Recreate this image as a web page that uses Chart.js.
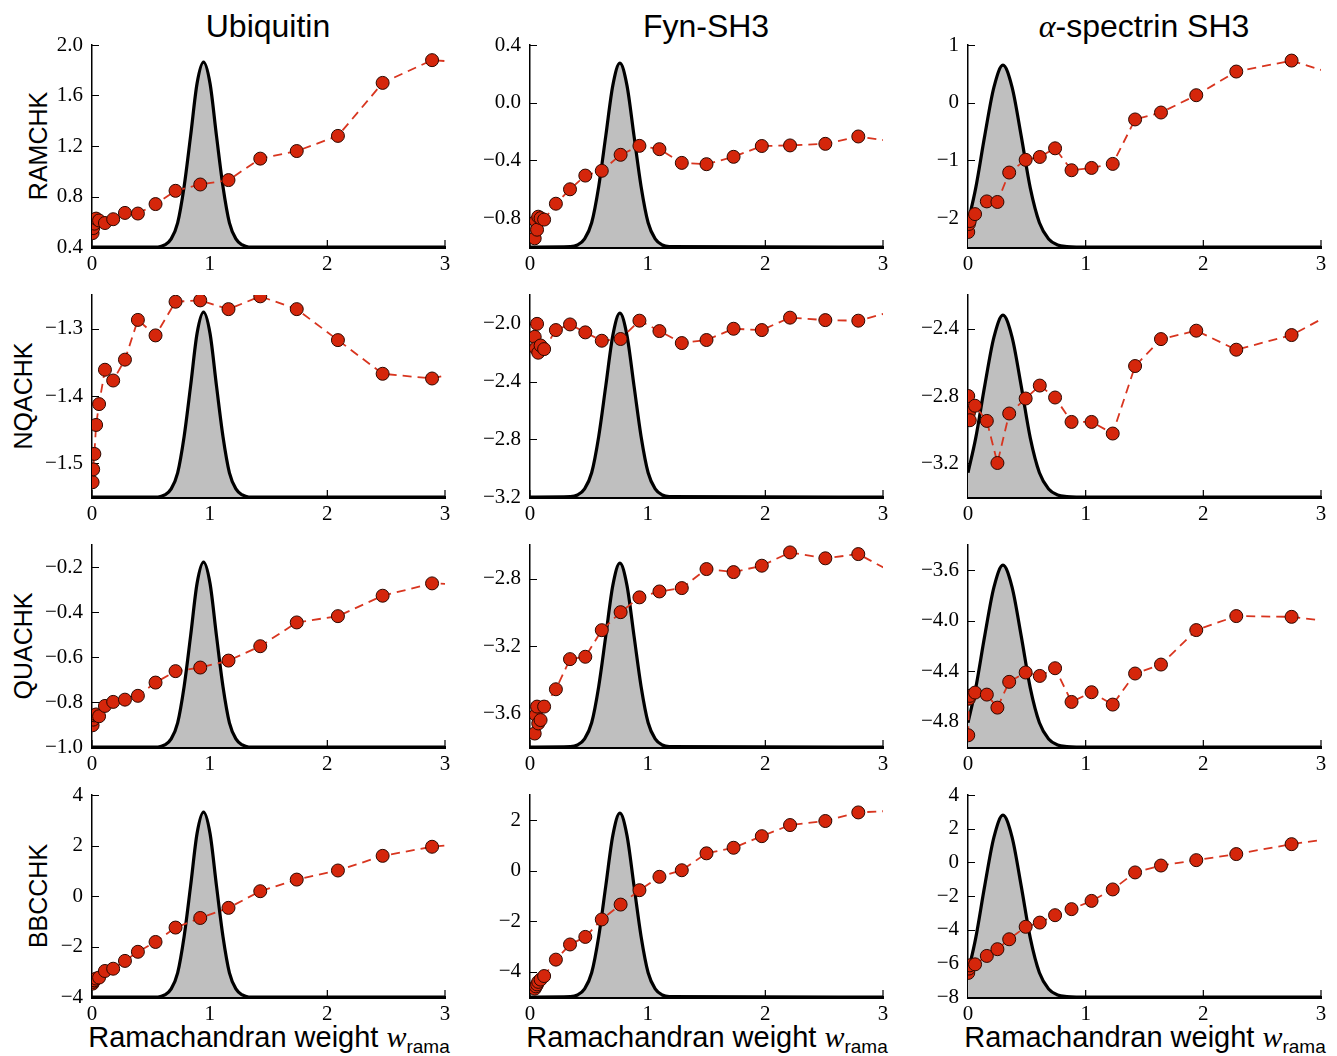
<!DOCTYPE html>
<html>
<head>
<meta charset="utf-8">
<script src="https://cdn.jsdelivr.net/npm/chart.js@4.4.1/dist/chart.umd.min.js"></script>
<style>
  html, body { margin: 0; padding: 0; background: #fff; }
  #page { position: relative; width: 1337px; height: 1056px; overflow: hidden; font-family: "Liberation Sans", Arial, sans-serif; color: #000; }
  #page canvas { position: absolute; }
  .col-title { position: absolute; top: 10px; width: 400px; margin-left: -200px; text-align: center; font-size: 32px; line-height: 32px; white-space: nowrap; }
  .col-title i { font-family: "Liberation Serif", serif; }
  .row-label { position: absolute; font-size: 25px; line-height: 25px; transform: translate(-50%, -50%) rotate(-90deg); white-space: nowrap; }
  .x-label { position: absolute; top: 1022px; width: 440px; margin-left: -220px; text-align: center; font-size: 29px; line-height: 29px; white-space: nowrap; }
  .x-label i { font-family: "Liberation Serif", serif; font-size: 30px; }
  .x-label span { font-size: 19px; position: relative; top: 6px; }
</style>
</head>
<body>
<div id="page">
  <div class="col-title" style="left:268px">Ubiquitin</div>
  <div class="col-title" style="left:706px">Fyn-SH3</div>
  <div class="col-title" style="left:1144px"><i>α</i>-spectrin SH3</div>
  <div class="row-label" style="left:38px; top:146px">RAMCHK</div>
  <div class="row-label" style="left:23px; top:396px">NQACHK</div>
  <div class="row-label" style="left:23px; top:646px">QUACHK</div>
  <div class="row-label" style="left:38px; top:896px">BBCCHK</div>
  <div class="x-label" style="left:269px">Ramachandran weight <i>w</i><span>rama</span></div>
  <div class="x-label" style="left:707px">Ramachandran weight <i>w</i><span>rama</span></div>
  <div class="x-label" style="left:1145px">Ramachandran weight <i>w</i><span>rama</span></div>
</div>
<script>
// Ramachandran weights sampled for each protein (last point lies past the axis and is clipped)
const ubqX = [0.005, 0.01, 0.02, 0.035, 0.06, 0.11, 0.18, 0.28, 0.39, 0.54, 0.71, 0.92, 1.16, 1.43, 1.74, 2.09, 2.47, 2.89, 3.35];
const ubqRam = [0.51, 0.55, 0.585, 0.625, 0.61, 0.59, 0.62, 0.67, 0.665, 0.74, 0.845, 0.895, 0.93, 1.10, 1.16, 1.28, 1.70, 1.88, 1.85];
const ubqNqa = [-1.528, -1.509, -1.486, -1.443, -1.412, -1.361, -1.377, -1.346, -1.287, -1.310, -1.260, -1.258, -1.271, -1.252, -1.271, -1.317, -1.367, -1.374, -1.355];
const ubqQua = [-0.903, -0.878, -0.859, -0.855, -0.863, -0.817, -0.799, -0.789, -0.772, -0.713, -0.662, -0.646, -0.615, -0.551, -0.445, -0.417, -0.326, -0.271, -0.28];
const ubqBbc = [-3.47, -3.40, -3.34, -3.27, -3.23, -2.97, -2.88, -2.57, -2.21, -1.82, -1.25, -0.87, -0.47, 0.19, 0.65, 1.01, 1.59, 1.95, 2.15];

const fynX = [0.04, 0.05, 0.06, 0.07, 0.09, 0.12, 0.22, 0.34, 0.47, 0.61, 0.77, 0.93, 1.10, 1.29, 1.50, 1.73, 1.97, 2.21, 2.51, 2.79, 3.1];
const fynRam = [-0.94, -0.82, -0.88, -0.79, -0.80, -0.81, -0.70, -0.60, -0.505, -0.472, -0.361, -0.299, -0.322, -0.417, -0.426, -0.375, -0.30, -0.296, -0.285, -0.234, -0.27];
const fynNqa = [-2.09, -2.17, -2.00, -2.20, -2.15, -2.175, -2.043, -2.004, -2.059, -2.117, -2.105, -1.978, -2.05, -2.133, -2.112, -2.034, -2.043, -1.957, -1.974, -1.978, -1.91];
const fynQua = [-3.72, -3.61, -3.56, -3.66, -3.64, -3.56, -3.457, -3.278, -3.264, -3.106, -2.999, -2.911, -2.876, -2.856, -2.743, -2.761, -2.723, -2.644, -2.679, -2.654, -2.77];
const fynBbc = [-4.67, -4.58, -4.50, -4.40, -4.31, -4.17, -3.52, -2.92, -2.62, -1.93, -1.34, -0.77, -0.24, 0.02, 0.69, 0.91, 1.37, 1.81, 1.97, 2.31, 2.38];

const spcX = [0.002, 0.008, 0.015, 0.06, 0.16, 0.25, 0.35, 0.49, 0.61, 0.74, 0.88, 1.05, 1.23, 1.42, 1.64, 1.94, 2.28, 2.75, 3.2];
const spcRam = [-2.24, -2.10, -2.05, -1.93, -1.71, -1.72, -1.21, -0.99, -0.94, -0.79, -1.17, -1.13, -1.06, -0.29, -0.17, 0.13, 0.54, 0.73, 0.44];
const spcNqa = [-2.80, -2.90, -2.944, -2.858, -2.948, -3.198, -2.904, -2.815, -2.738, -2.809, -2.954, -2.954, -3.023, -2.622, -2.462, -2.412, -2.525, -2.438, -2.27];
const spcQua = [-4.907, -4.617, -4.595, -4.569, -4.585, -4.688, -4.484, -4.410, -4.437, -4.376, -4.643, -4.566, -4.664, -4.418, -4.347, -4.074, -3.963, -3.969, -4.02];
const spcBbc = [-6.57, -6.31, -6.12, -6.06, -5.56, -5.16, -4.57, -3.83, -3.58, -3.14, -2.78, -2.29, -1.61, -0.60, -0.19, 0.13, 0.49, 1.08, 1.52];

// weight distributions (grey peaks), heights as a fraction of the panel
const ubqBellX = [0, 0.56, 0.618, 0.673, 0.728, 0.783, 0.838, 0.893, 0.948, 1.003, 1.058, 1.113, 1.168, 1.223, 1.278, 1.333, 3];
const ubqBellY = [0, 0, 0.01, 0.04, 0.12, 0.30, 0.55, 0.81, 0.915, 0.81, 0.55, 0.30, 0.12, 0.04, 0.01, 0, 0];
const fynBellX = [0, 0.344, 0.404, 0.464, 0.524, 0.584, 0.644, 0.704, 0.764, 0.824, 0.884, 0.944, 1.004, 1.064, 1.124, 1.184, 3];
const fynBellY = [0, 0.002, 0.01, 0.04, 0.12, 0.30, 0.55, 0.80, 0.91, 0.80, 0.55, 0.30, 0.12, 0.04, 0.01, 0.002, 0];
const spcBellX = [0, 0.065, 0.142, 0.22, 0.297, 0.375, 0.452, 0.53, 0.607, 0.685, 0.762, 0.84, 0.92, 3];
const spcBellY = [0.12, 0.29, 0.55, 0.79, 0.90, 0.79, 0.55, 0.29, 0.12, 0.04, 0.01, 0.002, 0, 0];

// y-axis ranges and ticks, one entry per row (RAMCHK, NQACHK, QUACHK, BBCCHK)
const ubqRange = [[0.4, 2.0], [-1.55, -1.25], [-1.0, -0.1], [-4, 4]];
const ubqTicks = [[0.4, 0.8, 1.2, 1.6, 2.0], [-1.5, -1.4, -1.3], [-1.0, -0.8, -0.6, -0.4, -0.2], [-4, -2, 0, 2, 4]];
const fynRange = [[-1.0, 0.4], [-3.2, -1.8], [-3.8, -2.6], [-5, 3]];
const fynTicks = [[-0.8, -0.4, 0.0, 0.4], [-3.2, -2.8, -2.4, -2.0], [-3.6, -3.2, -2.8], [-4, -2, 0, 2]];
const spcRange = [[-2.5, 1], [-3.4, -2.2], [-5.0, -3.4], [-8, 4]];
const spcTicks = [[-2, -1, 0, 1], [-3.2, -2.8, -2.4], [-4.8, -4.4, -4.0, -3.6], [-8, -6, -4, -2, 0, 2, 4]];
const xTicks = [0, 1, 2, 3];

const panels = [
    { x: ubqX, series: [ubqRam, ubqNqa, ubqQua, ubqBbc], bellX: ubqBellX, bellY: ubqBellY, range: ubqRange, ticks: ubqTicks },
    { x: fynX, series: [fynRam, fynNqa, fynQua, fynBbc], bellX: fynBellX, bellY: fynBellY, range: fynRange, ticks: fynTicks },
    { x: spcX, series: [spcRam, spcNqa, spcQua, spcBbc], bellX: spcBellX, bellY: spcBellY, range: spcRange, ticks: spcTicks }
];

const colLeft = [92, 530, 968];
const rowTop = [45, 295, 545, 795];
const plotW = 353, plotH = 202;
// padT must exceed the half-label padding Chart.js reserves above the y axis
const padL = 80, padT = 26, padR = 16, padB = 32;

const tickFont = { family: '"Liberation Serif", "Times New Roman", serif', size: 21 };

// matplotlib-style ticks pointing into the plot
const inwardTicks = {
    id: 'inwardTicks',
    beforeDatasetsDraw(chart) {
        const { ctx, chartArea, scales } = chart;
        ctx.save();
        ctx.strokeStyle = '#000';
        ctx.lineWidth = 1.2;
        ctx.beginPath();
        scales.x.ticks.forEach(t => {
            const px = scales.x.getPixelForValue(t.value);
            ctx.moveTo(px, chartArea.bottom);
            ctx.lineTo(px, chartArea.bottom - 7);
        });
        scales.y.ticks.forEach(t => {
            const py = Math.round(scales.y.getPixelForValue(t.value)) + 0.5;
            ctx.moveTo(chartArea.left, py);
            ctx.lineTo(chartArea.left + 7, py);
        });
        ctx.stroke();
        ctx.restore();
    }
};

function makePanel(col, row) {
    const p = panels[col];
    const page = document.getElementById('page');
    const canvas = document.createElement('canvas');
    const w = padL + plotW + padR, h = padT + plotH + padB;
    canvas.width = w;
    canvas.height = h;
    canvas.style.width = w + 'px';
    canvas.style.height = h + 'px';
    canvas.style.left = (colLeft[col] - padL) + 'px';
    canvas.style.top = (rowTop[row] - padT) + 'px';
    page.appendChild(canvas);

    const yTicks = p.ticks[row];
    const decimals = yTicks.some(v => !Number.isInteger(v)) ? 1 : 0;
    const points = p.x.map((x, i) => ({ x: x, y: p.series[row][i] }));
    const bell = p.bellX.map((x, i) => ({ x: x, y: p.bellY[i] }));

    new Chart(canvas, {
        type: 'line',
        data: {
            datasets: [{
                data: points,
                yAxisID: 'y',
                borderColor: '#d8351f',
                borderWidth: 1.8,
                borderDash: [9, 6],
                tension: 0,
                fill: false,
                pointRadius: 6.5,
                pointBackgroundColor: '#d5260b',
                pointBorderColor: '#2b0800',
                pointBorderWidth: 1
            }, {
                data: bell,
                yAxisID: 'yb',
                borderColor: '#000',
                borderWidth: 3.2,
                backgroundColor: '#bfbfbf',
                fill: 'origin',
                pointRadius: 0,
                cubicInterpolationMode: 'monotone',
                clip: { left: 0, top: 0, right: 0, bottom: 2 }
            }]
        },
        options: {
            responsive: false,
            animation: false,
            devicePixelRatio: 1,
            events: [],
            layout: { padding: { left: 0, top: padT, right: padR, bottom: 0 }, autoPadding: false },
            plugins: { legend: { display: false }, tooltip: { enabled: false } },
            scales: {
                x: {
                    type: 'linear',
                    min: 0,
                    max: 3,
                    grid: { display: false, drawTicks: false },
                    border: { color: '#000', width: 3 },
                    ticks: { font: tickFont, color: '#000', padding: 5, maxRotation: 0, callback: v => String(v) },
                    afterBuildTicks: s => { s.ticks = xTicks.map(v => ({ value: v })); },
                    afterFit: s => { s.height = padB; }
                },
                y: {
                    type: 'linear',
                    position: 'left',
                    min: p.range[row][0],
                    max: p.range[row][1],
                    grid: { display: false, drawTicks: false },
                    border: { color: '#000', width: 1.5 },
                    ticks: { font: tickFont, color: '#000', padding: 9, callback: v => v.toFixed(decimals).replace('-', '\u2212') },
                    afterBuildTicks: s => { s.ticks = yTicks.map(v => ({ value: v })); },
                    afterFit: s => { s.width = padL; }
                },
                yb: { type: 'linear', display: false, min: 0, max: 1 }
            }
        },
        plugins: [inwardTicks]
    });
}

for (let r = 0; r < 4; r++) {
    for (let c = 0; c < 3; c++) {
        makePanel(c, r);
    }
}
</script>
</body>
</html>
